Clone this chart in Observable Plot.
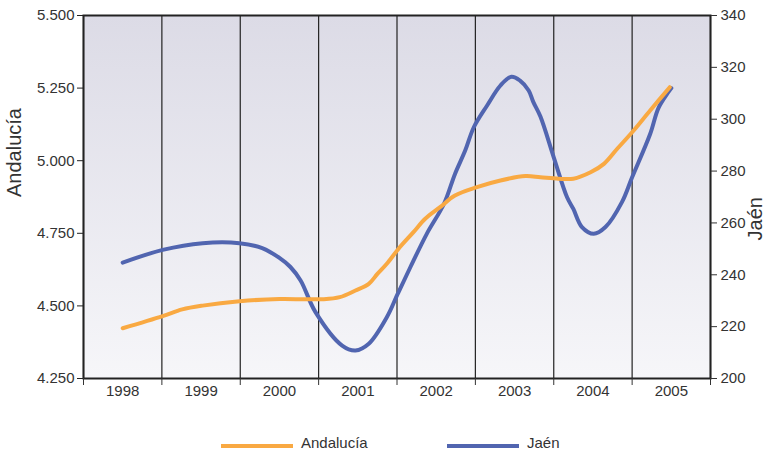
<!DOCTYPE html>
<html><head><meta charset="utf-8">
<script src="https://cdn.jsdelivr.net/npm/d3@7"></script>
<script src="https://cdn.jsdelivr.net/npm/@observablehq/plot@0.6"></script>
<style>
body{margin:0;background:#fff;font-family:"Liberation Sans",Arial,sans-serif;}
#wrap{position:relative;width:765px;height:451px;}
#legend{position:absolute;left:0;top:434px;width:765px;height:20px;font-size:15px;color:#333;}
.sw{position:absolute;height:4px;top:10px;width:72px;}
.lb{position:absolute;top:0px;}
</style></head><body>
<div id="wrap"><div id="chart"></div>
<div id="legend">
<div class="sw" style="left:221px;background:#f9a942"></div><div class="lb" style="left:301px">Andalucía</div>
<div class="sw" style="left:447px;background:#5165b0"></div><div class="lb" style="left:527px">Jaén</div>
</div></div>
<script>
const years = [1998, 1999, 2000, 2001, 2002, 2003, 2004, 2005];
const leftTicks = [4.25, 4.5, 4.75, 5.0, 5.25, 5.5];
const rightTicks = [200, 220, 240, 260, 280, 300, 320, 340];
const seriesNames = ["Andalucía", "Jaén"];

// Andalucía (left axis), sampled along the curve: [year position, value]
const andaluciaT = [1998.0,1998.51,1998.76,1999.02,1999.49,2000.0,2000.55,2000.77,2000.97,2001.14,2001.25,2001.37,2001.52,2001.71,2001.86,2002.05,2002.24,2002.52,2002.82,2003.14,2003.33,2003.56,2003.75,2003.97,2004.14,2004.31,2004.5,2004.73,2004.98];
const andaluciaV = [4.423,4.465,4.488,4.501,4.516,4.524,4.523,4.530,4.553,4.576,4.61,4.645,4.697,4.754,4.80,4.84,4.88,4.909,4.932,4.947,4.943,4.938,4.938,4.960,4.989,5.041,5.098,5.173,5.253];

// Jaén (right axis)
const jaenT = [1998.0,1998.51,1999.02,1999.49,1999.78,2000.0,2000.14,2000.27,2000.46,2000.8,2000.97,2001.14,2001.37,2001.51,2001.67,2001.88,2002.1,2002.24,2002.37,2002.48,2002.65,2002.82,2002.96,2003.07,2003.18,2003.24,2003.33,2003.5,2003.67,2003.75,2003.86,2004.01,2004.16,2004.37,2004.5,2004.73,2004.84,2005.0];
const jaenV = [244.7,249.6,252.2,252.2,250.3,246.5,243.0,237.8,225.6,212.7,210.8,213.4,223.6,232.7,242.9,255.8,267.4,278.9,287.9,296.9,305.3,313.0,316.4,314.9,311.1,306.6,301.0,285.3,269.9,265.4,258.4,255.8,258.4,268.0,277.6,294.3,304.6,312.0];

const L0 = 4.25, L1 = 5.5, R0 = 200, R1 = 340;
const toLeft = v => L0 + (v - R0) / (R1 - R0) * (L1 - L0);

const andalucia = andaluciaT.map((t, i) => ({t, v: andaluciaV[i]}));
const jaen = jaenT.map((t, i) => ({t, v: toLeft(jaenV[i])}));
const bounds = d3.range(years[0] - 0.5, years[years.length - 1] + 1, 1);

const txt = "#333";
const plot = Plot.plot({
  width: 765, height: 400,
  marginLeft: 83, marginRight: 55, marginTop: 15, marginBottom: 22,
  style: {fontFamily: "Liberation Sans, Arial, sans-serif", fontSize: "15px", color: txt, background: "transparent"},
  x: {domain: [1997.5, 2005.5]},
  y: {domain: [L0, L1]},
  marks: [
    Plot.frame({fill: "url(#bg)", stroke: "none"}),
    Plot.ruleX(bounds, {stroke: "#222", strokeWidth: 1.2}),
    Plot.line(jaen, {x: "t", y: "v", stroke: "#5165b0", strokeWidth: 4, curve: "catmull-rom"}),
    Plot.line(andalucia, {x: "t", y: "v", stroke: "#f9a942", strokeWidth: 4, curve: "catmull-rom"}),
    Plot.frame({stroke: "#222", strokeWidth: 2}),
    Plot.axisY(leftTicks, {anchor: "left", tickFormat: d3.format(".3f"), tickSize: 6, tickPadding: 3, label: null, stroke: "#222"}),
    Plot.axisY(rightTicks.map(toLeft), {anchor: "right", tickFormat: d => String(Math.round(R0 + (d - L0) / (L1 - L0) * (R1 - R0))), tickSize: 6, tickPadding: 4, label: null}),
    Plot.axisX(bounds, {tickFormat: () => "", tickSize: 7, label: null}),
    Plot.axisX(years, {tickFormat: d => String(d), tickSize: 0, tickPadding: 7, label: null}),
    Plot.text([seriesNames[0]], {frameAnchor: "left", dx: -69, rotate: -90, fontSize: 20, fill: txt}),
    Plot.text([seriesNames[1]], {frameAnchor: "right", dx: 45, rotate: -90, fontSize: 20, fill: txt})
  ]
});
const svg = d3.select(plot);
const g = svg.insert("defs", ":first-child").append("linearGradient").attr("id", "bg").attr("x1", 0).attr("y1", 0).attr("x2", 0).attr("y2", 1);
g.append("stop").attr("offset", "0%").attr("stop-color", "#dcdbe6");
g.append("stop").attr("offset", "100%").attr("stop-color", "#f6f6f9");
document.getElementById("chart").appendChild(plot);
</script></body></html>
